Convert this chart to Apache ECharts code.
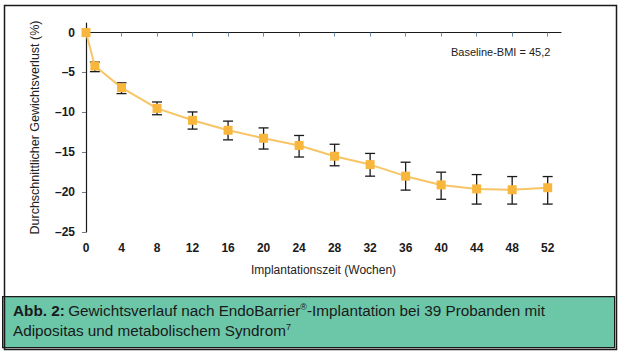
<!DOCTYPE html>
<html>
<head>
<meta charset="utf-8">
<script src="https://cdn.jsdelivr.net/npm/echarts@6/dist/echarts.min.js"></script>
<style>
  html, body { margin: 0; padding: 0; background: #fff; }
  #chart { width: 618px; height: 352px; }
</style>
</head>
<body>
<div id="chart"></div>
<script>
var chart = echarts.init(document.getElementById('chart'), null, {renderer: 'svg'});

// Wochen nach Implantation
var weeks = [0, 1, 4, 8, 12, 16, 20, 24, 28, 32, 36, 40, 44, 48, 52];
// mittlerer Gewichtsverlust in %
var meanLoss = [0, -4.2, -6.9, -9.5, -11.0, -12.25, -13.25, -14.15, -15.5, -16.55, -18.0, -19.1, -19.6, -19.7, -19.45];
// Fehlerbalken oben / unten
var errHigh = [0, -3.7, -6.3, -8.7, -9.95, -11.1, -11.95, -12.9, -14.0, -15.15, -16.25, -17.5, -17.8, -18.05, -18.05];
var errLow = [0, -4.9, -7.65, -10.3, -12.1, -13.45, -14.6, -15.6, -16.7, -18.0, -19.75, -20.9, -21.5, -21.5, -21.5];

var xTicks = [0, 4, 8, 12, 16, 20, 24, 28, 32, 36, 40, 44, 48, 52];
var yTicks = [-25, -20, -15, -10, -5, 0];

var fontName = '"Liberation Sans", Arial, sans-serif';

var linePts = weeks.map(function (w, i) { return [w, meanLoss[i]]; });
var errPts = weeks.map(function (w, i) { return [w, errHigh[i], errLow[i]]; });

var option = {
    animation: false,
    textStyle: {fontFamily: fontName},
    grid: {left: 86, right: 57, top: 23, bottom: 120, containLabel: false},
    xAxis: {
        type: 'value',
        min: 0,
        max: 53.5,
        interval: 4,
        name: 'Implantationszeit (Wochen)',
        nameLocation: 'middle',
        nameGap: 32,
        nameTextStyle: {fontSize: 12, color: '#222', fontFamily: fontName},
        splitLine: {show: false},
        axisLine: {lineStyle: {color: '#1a1a1a', width: 1.2}},
        axisTick: {customValues: xTicks, length: 4, inside: false, lineStyle: {color: '#6a8aa8', width: 1}},
        axisLabel: {
            customValues: xTicks,
            margin: 10,
            fontSize: 12,
            fontWeight: 'bold',
            color: '#1a1a1a',
            fontFamily: fontName
        }
    },
    yAxis: {
        type: 'value',
        min: -25,
        max: 1.2,
        interval: 5,
        name: 'Durchschnittlicher Gewichtsverlust (%)',
        nameLocation: 'middle',
        nameGap: 45,
        nameTextStyle: {fontSize: 12.5, color: '#222', fontFamily: fontName},
        splitLine: {show: false},
        axisLine: {lineStyle: {color: '#1a1a1a', width: 1.2}},
        axisTick: {customValues: yTicks, length: 4, lineStyle: {color: '#6a7a8a', width: 1}},
        axisLabel: {
            customValues: yTicks,
            margin: 11,
            fontSize: 12,
            fontWeight: 'bold',
            color: '#1a1a1a',
            fontFamily: fontName,
            formatter: function (v) { return v < 0 ? '\u2013' + Math.abs(v) : String(v); }
        }
    },
    series: [
        {
            type: 'line',
            data: linePts,
            clip: false,
            symbol: 'rect',
            symbolSize: 9,
            z: 3,
            lineStyle: {color: '#f7c566', width: 2},
            itemStyle: {color: '#f9b63c', borderWidth: 0}
        },
        {
            type: 'custom',
            data: errPts,
            clip: false,
            z: 2,
            renderItem: function (params, api) {
                var top = api.coord([api.value(0), api.value(1)]);
                var bot = api.coord([api.value(0), api.value(2)]);
                if (Math.abs(top[1] - bot[1]) < 1) return null;
                var hw = 5;
                var st = {stroke: '#1a1a1a', lineWidth: 1.3};
                return {
                    type: 'group',
                    children: [
                        {type: 'line', shape: {x1: top[0], y1: top[1], x2: bot[0], y2: bot[1]}, style: st},
                        {type: 'line', shape: {x1: top[0] - hw, y1: top[1], x2: top[0] + hw, y2: top[1]}, style: st},
                        {type: 'line', shape: {x1: bot[0] - hw, y1: bot[1], x2: bot[0] + hw, y2: bot[1]}, style: st}
                    ]
                };
            }
        }
    ],
    graphic: [
        {
            type: 'rect',
            left: 2, top: 296,
            shape: {width: 612, height: 51},
            style: {fill: '#6cc6a8', stroke: '#1a1a1a', lineWidth: 1.2},
            z: -1
        },
        {
            type: 'rect',
            left: 2, top: 3,
            shape: {width: 612, height: 344},
            style: {fill: 'none', stroke: '#1a1a1a', lineWidth: 1.5},
            z: 10
        },
        {
            type: 'text',
            left: 451, top: 46,
            style: {text: 'Baseline-BMI = 45,2', fontSize: 11, fill: '#222', fontFamily: fontName}
        },
        {
            type: 'text',
            left: 13, top: 300,
            style: {
                text: '{b|Abb. 2:} {n|Gewichtsverlauf nach EndoBarrier}{s|®}{n|-Implantation bei 39 Probanden mit}\n{n|Adipositas und metabolischem Syndrom}{s|7}',
                fontFamily: fontName,
                fill: '#1a1a1a',
                lineHeight: 20,
                rich: {
                    b: {fontSize: 15.3, fontWeight: 'bold', fill: '#1a1a1a', lineHeight: 20},
                    n: {fontSize: 15.3, fill: '#1a1a1a', lineHeight: 20},
                    s: {fontSize: 9, fill: '#1a1a1a', verticalAlign: 'top', lineHeight: 20, padding: [2, 0, 0, 0]}
                }
            }
        }
    ]
};

chart.setOption(option);
</script>
</body>
</html>
